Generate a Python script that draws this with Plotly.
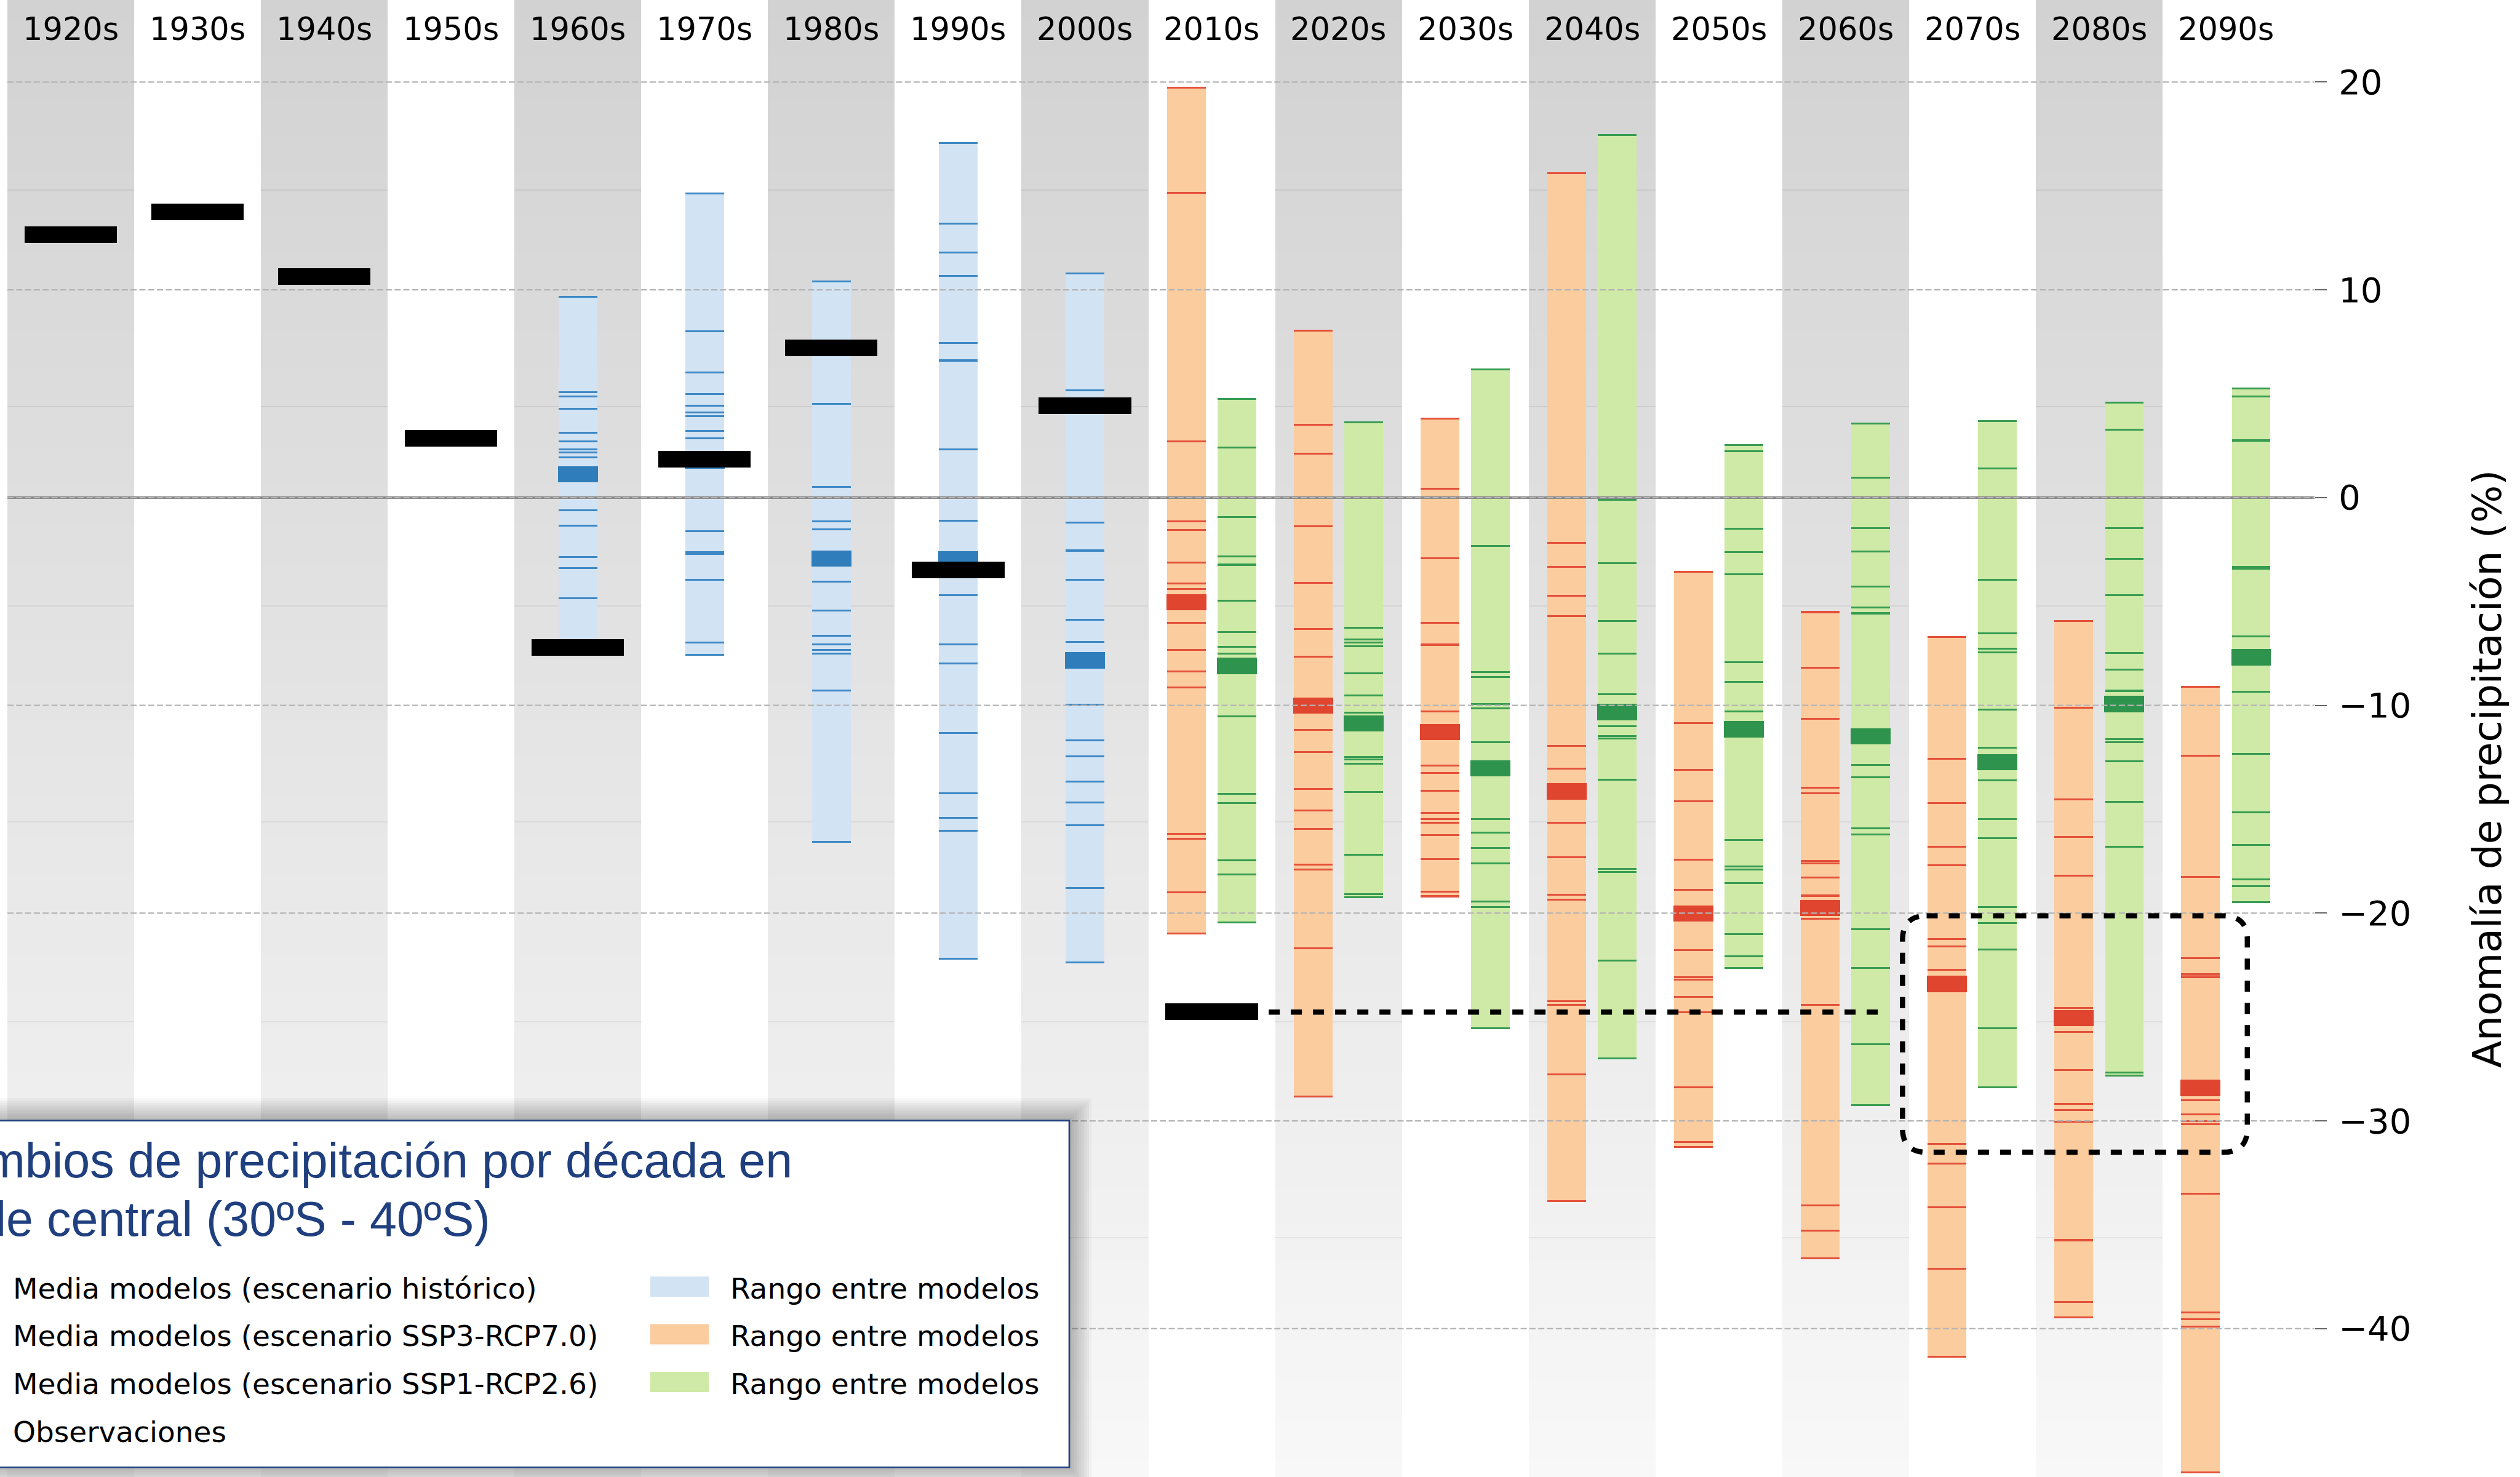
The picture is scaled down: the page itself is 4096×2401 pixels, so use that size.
import plotly.graph_objects as go

# ---------------------------------------------------------------------------
# Data: decadal precipitation anomaly (%) for central Chile (30S-40S)
# ---------------------------------------------------------------------------
decades = ["1920s", "1930s", "1940s", "1950s", "1960s", "1970s", "1980s", "1990s", "2000s",
           "2010s", "2020s", "2030s", "2040s", "2050s", "2060s", "2070s", "2080s", "2090s"]

# observations
obs_decades = ["1920s", "1930s", "1940s", "1950s", "1960s", "1970s", "1980s", "1990s", "2000s", "2010s"]
obs_values = [12.65, 13.75, 10.64, 2.84, -7.21, 1.84, 7.21, -3.47, 4.41, -24.73]

# historical simulations: individual models and multi-model mean
hist_decades = ["1960s", "1970s", "1980s", "1990s", "2000s"]
hist_models = [
    [9.67, 5.08, 4.86, 4.28, 3.13, 2.71, 2.31, 2.17, 1.93, -0.60, -1.36, -2.86, -3.40, -4.83, -7.0],
    [14.63, 8.01, 6.02, 4.99, 4.41, 4.10, 3.92, 3.22, 2.84, -1.63, -2.62, -2.71, -3.96, -6.98, -7.56],
    [10.41, 4.52, 0.52, -1.14, -1.52, -4.05, -5.44, -6.65, -7.07, -7.34, -7.50, -9.29, -16.56],
    [17.06, 13.2, 11.8, 10.66, 7.45, 6.60, 2.31, -1.12, -4.70, -7.07, -7.99, -11.32, -14.23, -15.42,
     -16.05, -22.2],
    [10.79, 5.15, -1.21, -2.55, -3.96, -5.88, -6.94, -9.96, -11.68, -12.44, -13.67, -14.68, -15.78,
     -18.78, -22.36],
]
hist_mean = [1.12, 1.79, -2.93, -2.97, -7.83]

# projections
proj_decades = ["2010s", "2020s", "2030s", "2040s", "2050s", "2060s", "2070s", "2080s", "2090s"]
ssp370_models = [
    [19.74, 14.66, 2.70, -1.15, -1.56, -3.13, -4.13, -4.39, -6.04, -7.32, -8.37, -9.15, -16.17, -16.41,
     -19.01, -20.97],
    [8.03, 3.50, 2.11, -1.37, -4.10, -6.32, -7.67, -11.19, -12.24, -14.01, -15.05, -15.94, -17.66, -17.89,
     -21.69, -28.84],
    [3.81, 0.42, -2.91, -6.04, -7.08, -10.30, -12.89, -13.24, -14.10, -15.17, -15.48, -15.66, -16.24,
     -17.41, -18.98, -19.19],
    [15.61, -2.19, -3.34, -4.73, -5.69, -11.95, -13.04, -15.66, -17.32, -19.11, -19.34, -24.25, -24.42,
     -27.77, -33.87],
    [-3.58, -10.86, -13.11, -14.62, -17.44, -18.89, -21.79, -23.08, -23.21, -24.02, -24.77, -28.37, -31.03,
     -31.25],
    [-5.51, -8.20, -10.64, -13.95, -14.24, -17.49, -17.60, -18.30, -19.16, -20.26, -24.42, -34.07, -35.27,
     -36.62],
    [-6.72, -12.56, -14.71, -16.81, -17.70, -21.26, -21.59, -22.73, -31.10, -32.06, -34.16, -37.11, -41.36],
    [-5.94, -10.12, -14.52, -16.34, -18.20, -24.55, -25.73, -27.55, -29.17, -29.48, -30.04, -35.74, -38.73,
     -39.45],
    [-9.11, -12.41, -18.25, -22.17, -22.95, -23.08, -29.00, -29.69, -30.00, -30.15, -33.51, -39.23, -39.54,
     -39.90, -46.91],
]
ssp370_mean = [-5.04, -10.02, -11.28, -14.14, -20.02, -19.75, -23.41, -25.05, -28.41]

ssp126_models = [
    [4.74, 2.42, -0.95, -2.84, -3.23, -4.97, -6.47, -7.17, -7.50, -10.54, -14.26, -14.69, -17.46, -18.15,
     -20.46],
    [3.63, -6.26, -6.84, -6.99, -7.15, -8.47, -9.52, -10.34, -12.47, -12.60, -12.82, -14.16, -17.20, -19.10,
     -19.22],
    [6.18, -2.32, -8.41, -8.63, -9.93, -10.15, -11.78, -15.47, -16.13, -16.86, -17.60, -19.44, -19.70,
     -25.53],
    [17.46, -0.10, -3.15, -5.93, -7.52, -9.45, -10.99, -11.49, -11.60, -13.59, -17.86, -18.02, -22.27,
     -26.99],
    [2.54, 2.22, -1.51, -2.61, -3.69, -7.93, -8.87, -10.30, -16.47, -17.76, -17.90, -18.54, -21.01, -22.09,
     -22.65],
    [3.56, 0.96, -1.46, -2.59, -4.28, -5.30, -5.57, -12.87, -13.46, -15.91, -16.20, -20.77, -22.65, -26.30,
     -29.23],
    [3.69, 1.40, -3.96, -6.53, -7.26, -7.45, -10.20, -12.03, -13.62, -15.47, -16.40, -19.72, -20.48, -21.74,
     -25.53, -28.37],
    [4.57, 3.26, -1.48, -2.95, -4.70, -7.47, -8.28, -9.30, -11.63, -11.77, -12.70, -14.65, -16.82, -27.68,
     -27.81],
    [5.25, 4.86, 2.75, -3.34, -3.42, -6.68, -9.34, -12.33, -15.15, -16.73, -18.38, -18.70, -19.48],
]
ssp126_mean = [-8.10, -10.86, -13.04, -10.32, -11.15, -11.50, -12.73, -9.94, -7.69]

y_ticks = [20, 10, 0, -10, -20, -30, -40]
y_tick_labels = ["20", "10", "0", "\u221210", "\u221220", "\u221230", "\u221240"]

# ---------------------------------------------------------------------------
# Layout constants
# ---------------------------------------------------------------------------
W, H = 4096, 2401
PLOT_L, PLOT_R = 12, 3762
X_RANGE = [-0.5, 17.70]
Y_RANGE = [-47.14, 23.95]

RANGE_W = 0.305      # width of the inter-model range column
MEAN_W = 0.315       # width of the multi-model mean block
MEAN_H = 0.78        # thickness of the mean block (in %)
LINE_H = 0.09        # thickness of a single-model tick (in %)
OBS_W = 0.73
OBS_H = 0.80
PROJ_OFF = 0.20      # horizontal offset of the two scenarios inside a decade

C_BLUE_FILL, C_BLUE_LINE, C_BLUE_MEAN = "#d2e3f3", "#3d88c5", "#2f7ebb"
C_ORNG_FILL, C_ORNG_LINE, C_ORNG_MEAN = "#fbcc9e", "#e4503a", "#e0452f"
C_GRN_FILL, C_GRN_LINE, C_GRN_MEAN = "#cfeaa6", "#369c52", "#2e934c"
NAVY = "#1f3f7f"

idx = {d: i for i, d in enumerate(decades)}


def xpaper(px):
    return (px - PLOT_L) / (PLOT_R - PLOT_L)


def ypaper(py):
    return 1 - py / H


def flat_bar(xs, ys, width, thick, color):
    """Horizontal slab of fixed thickness centred on each y value."""
    return go.Bar(x=xs, base=[v - thick / 2 for v in ys], y=[thick] * len(ys), width=width,
                  marker=dict(color=color, line=dict(width=0)), hoverinfo="skip", showlegend=False)


fig = go.Figure()

# --- alternating decade background with vertical shading -------------------
ny = 240
dy = (Y_RANGE[1] - Y_RANGE[0]) / ny
yc = [Y_RANGE[0] + (k + 0.5) * dy for k in range(ny)]
zbg = [[yv if j % 2 == 0 else None for j in range(len(decades))] for yv in yc]
fig.add_trace(go.Heatmap(
    x=list(range(len(decades))), y=yc, z=zbg, zmin=Y_RANGE[0], zmax=Y_RANGE[1],
    colorscale=[[0, "rgb(248,248,248)"], [1, "rgb(210,210,210)"]],
    showscale=False, hoverinfo="skip"))

# faint seams between shading bands
band_edges = [14.80, 4.39, -5.21, -15.61, -25.21, -35.61]
gray_cols = list(range(0, len(decades), 2))
for be in band_edges:
    g = 248 - 38 * (be - Y_RANGE[0]) / (Y_RANGE[1] - Y_RANGE[0]) - 14
    fig.add_trace(flat_bar(gray_cols, [be] * len(gray_cols), 1.0, 0.04,
                           f"rgb({g:.0f},{g:.0f},{g:.0f})"))

# --- inter-model ranges -----------------------------------------------------
hist_x = [idx[d] for d in hist_decades]
p370_x = [idx[d] - PROJ_OFF for d in proj_decades]
p126_x = [idx[d] + PROJ_OFF for d in proj_decades]

for xs_, groups, fill in [(hist_x, hist_models, C_BLUE_FILL),
                          (p370_x, ssp370_models, C_ORNG_FILL),
                          (p126_x, ssp126_models, C_GRN_FILL)]:
    lo = [min(g) for g in groups]
    hi = [max(g) for g in groups]
    fig.add_trace(go.Bar(x=xs_, base=lo, y=[h - l for h, l in zip(hi, lo)], width=RANGE_W,
                         marker=dict(color=fill, line=dict(width=0)), hoverinfo="skip",
                         showlegend=False))

# --- individual models ------------------------------------------------------
for xs_, groups, col in [(hist_x, hist_models, C_BLUE_LINE),
                         (p370_x, ssp370_models, C_ORNG_LINE),
                         (p126_x, ssp126_models, C_GRN_LINE)]:
    tx = [c for c, g in zip(xs_, groups) for _ in g]
    ty = [v for g in groups for v in g]
    fig.add_trace(flat_bar(tx, ty, RANGE_W, LINE_H, col))

# --- multi-model means ------------------------------------------------------
for xs_, means, col in [(hist_x, hist_mean, C_BLUE_MEAN),
                        (p370_x, ssp370_mean, C_ORNG_MEAN),
                        (p126_x, ssp126_mean, C_GRN_MEAN)]:
    fig.add_trace(flat_bar(xs_, means, MEAN_W, MEAN_H, col))

# --- observations -----------------------------------------------------------
fig.add_trace(flat_bar([idx[d] for d in obs_decades], obs_values, OBS_W, OBS_H, "#000000"))

shapes = []

# --- grid -------------------------------------------------------------------
for t in y_ticks:
    if t == 0:
        shapes.append(dict(type="line", xref="paper", yref="y", x0=0, x1=1, y0=0, y1=0,
                           line=dict(color="#8a8a8a", width=4.2), layer="above"))
        shapes.append(dict(type="line", xref="paper", yref="y", x0=0, x1=1, y0=0, y1=0,
                           line=dict(color="#b6b6b6", width=2.0, dash="10px,4.3px"), layer="above"))
    else:
        shapes.append(dict(type="line", xref="paper", yref="y", x0=0, x1=1, y0=t, y1=t,
                           line=dict(color="#b4b4b4", width=2.3, dash="10px,4.3px"), layer="above"))

# --- highlight: 2010s observed deficit carried forward ----------------------
obs_2010 = obs_values[obs_decades.index("2010s")]
shapes.append(dict(type="line", xref="x", yref="y", x0=idx["2010s"] + 0.45, x1=idx["2060s"] + 0.27,
                   y0=obs_2010 - 0.03, y1=obs_2010 - 0.03,
                   line=dict(color="black", width=8.5, dash="18px,18px"), layer="above"))

# rounded box around late-century SSP3-7.0 means
bx0, bx1, by0, by1 = idx["2070s"] - 0.55, idx["2090s"] + 0.17, -31.51, -20.13
rx, ry = 0.19, 1.15
box_path = (f"M {bx0 + rx},{by1} L {bx1 - rx},{by1} Q {bx1},{by1} {bx1},{by1 - ry} "
            f"L {bx1},{by0 + ry} Q {bx1},{by0} {bx1 - rx},{by0} L {bx0 + rx},{by0} "
            f"Q {bx0},{by0} {bx0},{by0 + ry} L {bx0},{by1 - ry} Q {bx0},{by1} {bx0 + rx},{by1} Z")
shapes.append(dict(type="path", xref="x", yref="y", path=box_path,
                   line=dict(color="black", width=8.5, dash="18px,18px"), layer="above"))

# --- legend panel (drawn by hand) -------------------------------------------
LG_X0, LG_X1, LG_Y0, LG_Y1 = -250, 1738, 1821.6, 2385.3
for k in range(9, 0, -1):
    e = 4 * k
    shapes.append(dict(type="rect", xref="paper", yref="paper",
                       x0=xpaper(LG_X0 - e), x1=xpaper(LG_X1 + e),
                       y0=ypaper(LG_Y1 + e), y1=ypaper(LG_Y0 - e),
                       line=dict(width=0), fillcolor="rgba(0,0,0,0.03)", layer="above"))
shapes.append(dict(type="rect", xref="paper", yref="paper",
                   x0=xpaper(LG_X0), x1=xpaper(LG_X1), y0=ypaper(LG_Y1), y1=ypaper(LG_Y0),
                   line=dict(color=NAVY, width=2.6), fillcolor="white", layer="above"))

legend_rows = [2094.0, 2171.5, 2249.0, 2327.0]
legend_fills = [C_BLUE_FILL, C_ORNG_FILL, C_GRN_FILL]
for ry_, fc in zip(legend_rows[:3], legend_fills):
    shapes.append(dict(type="rect", xref="paper", yref="paper",
                       x0=xpaper(1057), x1=xpaper(1152), y0=ypaper(ry_ + 14), y1=ypaper(ry_ - 19),
                       line=dict(width=0), fillcolor=fc, layer="above"))

annotations = []

# decade labels along the top
for i, d in enumerate(decades):
    annotations.append(dict(x=i, y=ypaper(47.6), xref="x", yref="paper", text=d, showarrow=False,
                            xanchor="center", yanchor="middle",
                            font=dict(family="DejaVu Sans", size=51, color="black")))

# legend title
for txt, yy in [("Cambios de precipitación por década en", 1886), ("Chile central (30ºS - 40ºS)", 1981.5)]:
    annotations.append(dict(x=xpaper(-128), y=ypaper(yy), xref="paper", yref="paper", text=txt,
                            showarrow=False, xanchor="left", yanchor="middle",
                            font=dict(family="Liberation Sans", size=79, color=NAVY)))

legend_left = ["Media modelos (escenario histórico)", "Media modelos (escenario SSP3-RCP7.0)",
               "Media modelos (escenario SSP1-RCP2.6)", "Observaciones"]
for txt, yy in zip(legend_left, legend_rows):
    annotations.append(dict(x=xpaper(19), y=ypaper(yy), xref="paper", yref="paper", text=txt,
                            showarrow=False, xanchor="left", yanchor="middle",
                            font=dict(family="DejaVu Sans", size=47, color="black")))
for yy in legend_rows[:3]:
    annotations.append(dict(x=xpaper(1185), y=ypaper(yy), xref="paper", yref="paper",
                            text="Rango entre modelos", showarrow=False, xanchor="left",
                            yanchor="middle", font=dict(family="DejaVu Sans", size=47, color="black")))

# y-axis title on the right
annotations.append(dict(x=xpaper(4042), y=ypaper(1250), xref="paper", yref="paper",
                        text="Anomalía de precipitación (%)", showarrow=False, textangle=-90,
                        xanchor="center", yanchor="middle",
                        font=dict(family="DejaVu Sans", size=64.5, color="black")))

fig.update_layout(
    width=W, height=H,
    margin=dict(l=PLOT_L, r=W - PLOT_R, t=0, b=0, pad=0),
    paper_bgcolor="white", plot_bgcolor="white",
    barmode="overlay", bargap=0, showlegend=False,
    shapes=shapes, annotations=annotations,
    xaxis=dict(range=X_RANGE, visible=False, fixedrange=True),
    yaxis=dict(range=Y_RANGE, side="right", showgrid=False, zeroline=False, showline=False,
               tickmode="array", tickvals=y_ticks, ticktext=y_tick_labels,
               ticks="outside", ticklen=19, tickwidth=1.7, tickcolor="#666666",
               ticklabelstandoff=8,
               tickfont=dict(family="DejaVu Sans", size=56, color="black"), fixedrange=True),
)

fig.write_html("out.html")
